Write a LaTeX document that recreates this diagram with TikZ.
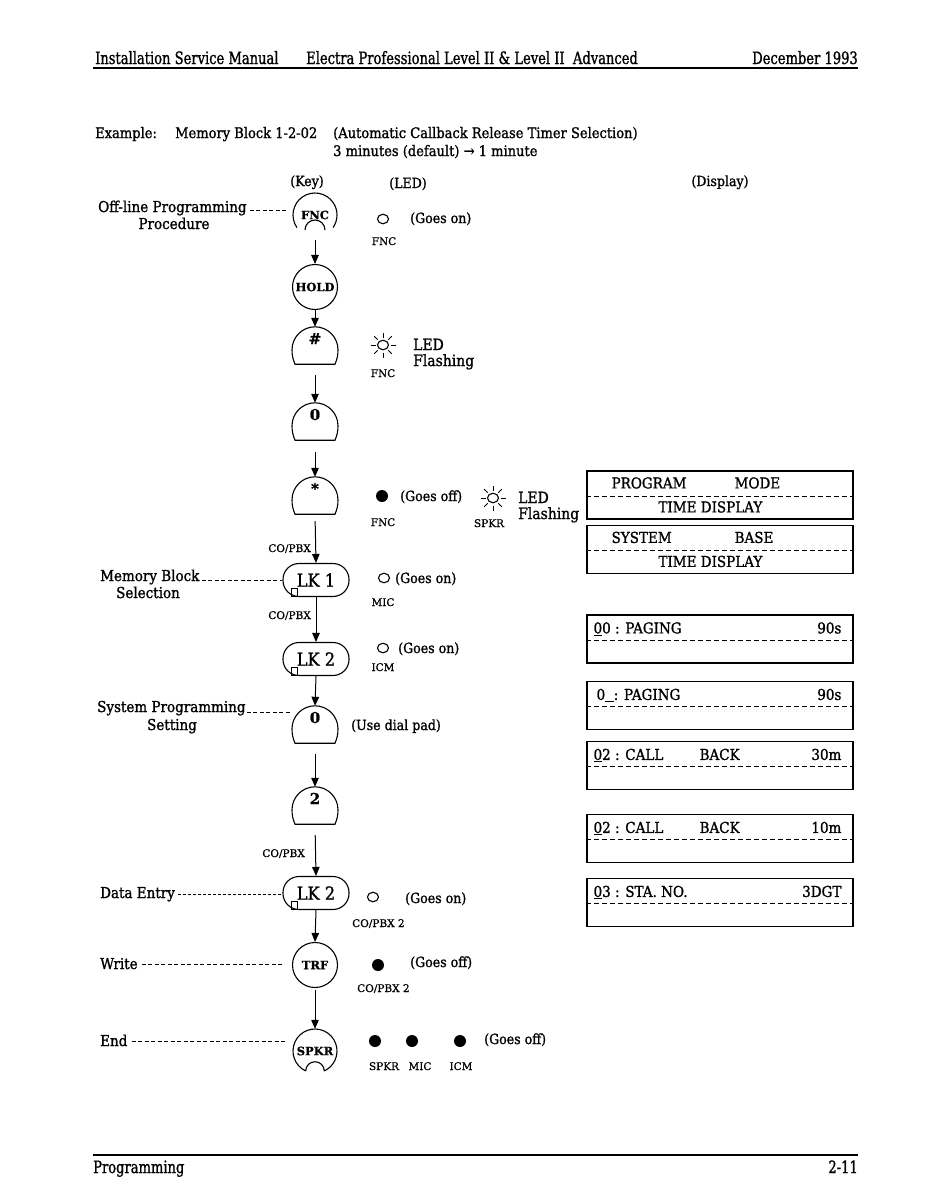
\documentclass[tikz,border=0pt]{standalone}
\usepackage{fontspec}
\setmainfont{DejaVu Serif}[FakeStretch=0.9,FakeBold=1.2]
\newfontfamily\hdrf{DejaVu Serif}[FakeStretch=0.77,FakeBold=1.2]
\newfontfamily\smallf{DejaVu Serif}[FakeBold=0.8]
\usetikzlibrary{arrows.meta,calc,shapes.geometric}
\newcommand\mydome[1]{\draw[keyline] ($(#1.south)+(-20,0)$) .. controls +(-2,-5) and +(0,6) .. ($(#1.north)+(-23,23)$) arc[start angle=180,end angle=0,radius=23pt] .. controls +(0,6) and +(2,-5) .. ($(#1.south)+(20,0)$) -- cycle;}
\newcommand\myflash[1]{\foreach \a in {0,45,...,315}{\draw[line width=0.9pt] ($(#1.center)+(\a:7.5pt)$) -- ($(#1.center)+(\a:12.5pt)$);}}
\newcommand\mysq[1]{\draw[line width=0.8pt] ($(#1.south west)+(9,-9)$) rectangle ++(6,8);}
\begin{document}
\begin{tikzpicture}[x=1pt,y=-1pt,
 keyline/.style={line width=1.1pt},
 arr/.style={line width=1pt,-{Triangle[length=9pt,width=7.5pt]}},
 lead/.style={line width=0.8pt,dash pattern=on 4pt off 2.5pt},
 body/.style={inner sep=0pt,anchor=base west,font=\fontsize{14.5}{17}\selectfont},
 lbl/.style={inner sep=0pt,anchor=base west,font=\fontsize{15}{17}\selectfont},
 ledt/.style={inner sep=0pt,anchor=base west,font=\fontsize{14}{16}\selectfont},
 bigt/.style={inner sep=0pt,anchor=base west,font=\fontsize{15.5}{17}\selectfont},
 sml/.style={inner sep=0pt,anchor=base,font=\smallf\fontsize{10.5}{12}\selectfont},
 hdr/.style={inner sep=0pt,anchor=base west,font=\hdrf\fontsize{17}{20}\selectfont},
 keyt/.style={font=\smallf\bfseries\fontsize{11.5}{12}\selectfont},
 circkey/.style={keyline,draw,circle,minimum size=45pt,inner sep=0pt,keyt},
 opencirc/.style={circle,minimum size=44pt,inner sep=0pt,keyt},
 domekey/.style={minimum width=46pt,minimum height=37pt,inner sep=0pt,text height=12pt,text depth=15pt,font=\smallf\bfseries\fontsize{15}{16}\selectfont},
 lk/.style={keyline,draw,rounded corners=16pt,minimum width=66pt,minimum height=33pt,inner sep=0pt,font=\fontsize{18}{20}\selectfont},
 ledon/.style={draw,ellipse,line width=1.1pt,minimum width=11pt,minimum height=9.5pt,inner sep=0pt},
 ledoff/.style={fill,circle,minimum size=12pt,inner sep=0pt},
 disp/.style={draw,line width=1.2pt,minimum width=266pt,minimum height=48pt,inner sep=0pt},
 dispt/.style={inner sep=0pt,anchor=base west,font=\fontsize{15}{17}\selectfont},
 ddash/.style={line width=1pt,dash pattern=on 5pt off 3pt}
]
\useasboundingbox (0,0) rectangle (924,1197);
% header / footer
\node[hdr] (h1) at (95,64) {Installation Service Manual};
\node[hdr] (h2) at (306,64) {Electra Professional Level II \& Level II\ \ Advanced};
\node[hdr,anchor=base east] (h3) at (858,64) {December 1993};
\draw[line width=2.4pt] (93,68) -- (858,68);
\draw[line width=2.4pt] (93,1155) -- (858,1155);
\node[hdr] (f1) at (93,1173) {Programming};
\node[hdr,anchor=base east] (f2) at (858,1173) {2-11};
% example
\node[body] (ex) at (95,138) {Example:};
\node[body] (mb0) at (175,138) {Memory Block 1-2-02};
\node[body] (ac) at (333,138) {(Automatic Callback Release Timer Selection)};
\node[body] (mn) at (333,156) {3 minutes (default) → 1 minute};
\node[ledt,anchor=base] (khead) at (307,186) {(Key)};
\node[ledt,anchor=base] (lhead) at (408,188) {(LED)};
\node[ledt,anchor=base] (dhead) at (720,186) {(Display)};
% keys
\node[opencirc] (fnc) at (315,215) {FNC};
\draw[keyline] ($(fnc.center)+(215:22pt)$) arc[start angle=215,end angle=-35,radius=22pt];
\draw[keyline] ($(fnc.center)+(10,15)$) arc[start angle=0,end angle=180,radius=10pt];
\node[circkey] (hold) at (315,287) {HOLD};
\node[domekey] (hash) at (315,345.5) {\#}; \mydome{hash}
\node[domekey] (zero1) at (315,421.5) {0}; \mydome{zero1}
\node[domekey] (star) at (315,495.5) {*}; \mydome{star}
\node[lk] (lk1) at (316,580) {LK 1}; \mysq{lk1}
\node[lk] (lk2a) at (316,659) {LK 2}; \mysq{lk2a}
\node[domekey] (zero2) at (315,724.5) {0}; \mydome{zero2}
\node[domekey] (two) at (315,805.5) {2}; \mydome{two}
\node[lk] (lk2b) at (316,893) {LK 2}; \mysq{lk2b}
\node[circkey] (trf) at (315,965) {TRF};
\node[opencirc] (spkr) at (315,1051) {SPKR};
\draw[keyline] ($(spkr.center)+(245:22pt)$) arc[start angle=245,end angle=-65,radius=22pt];
\draw[keyline] ($(spkr.center)+(9.3,20)$) arc[start angle=0,end angle=180,radius=9.3pt];
% arrows
\draw[arr,shorten <=3pt] (fnc.south) -- (hold.north);
\draw[arr] (hold.south) -- (hash.north);
\draw[arr,shorten <=11pt] (hash.south) -- (zero1.north);
\draw[arr,shorten <=12pt] (zero1.south) -- (star.north);
\draw[arr,shorten <=7pt] (star.south) -- (lk1.north);
\draw[arr] (lk1.south) -- (lk2a.north);
\draw[arr] (lk2a.south) -- (zero2.north);
\draw[arr,shorten <=11pt] (zero2.south) -- (two.north);
\draw[arr,shorten <=11pt] (two.south) -- (lk2b.north);
\draw[arr] (lk2b.south) -- (trf.north);
\draw[arr,shorten <=2pt] (trf.south) -- (spkr.north);
\node[sml,anchor=base east] (cp1) at (311,552) {CO/PBX};
\node[sml,anchor=base east] (cp2) at (311,619) {CO/PBX};
\node[sml,anchor=base east] (cp3) at (305,857) {CO/PBX};
% left labels
\node[lbl] (off1) at (98,212) {Off-line Programming};
\node[lbl,anchor=base] (off2) at (174,229) {Procedure};
\draw[lead] ($(off1.base east)+(3,-2)$) -- ($(fnc.west |- off1.base)+(-6,-2)$);
\node[lbl] (mbl1) at (100,581) {Memory Block};
\node[lbl,anchor=base] (mbl2) at (148,598) {Selection};
\draw[lead] ($(mbl1.base east)+(2,-1)$) -- ($(lk1.west |- mbl1.base)+(0,-1)$);
\node[lbl] (sp1) at (97,712) {System Programming};
\node[lbl,anchor=base] (sp2) at (172,730) {Setting};
\draw[lead] ($(sp1.base east)+(1,0)$) -- ($(zero2.west |- sp1.base)+(0,0)$);
\node[lbl] (de) at (100,898) {Data Entry};
\draw[lead,dash pattern=on 3pt off 2pt] ($(de.base east)+(3,-4)$) -- ($(lk2b.west |- de.base)+(0,-4)$);
\node[lbl] (wr) at (100,969) {Write};
\draw[lead] ($(wr.base east)+(4,-5)$) -- ($(trf.west |- wr.base)+(-8,-5)$);
\node[lbl] (en) at (100,1046) {End};
\draw[lead] ($(en.base east)+(4,-5)$) -- ($(spkr.west |- en.base)+(-8,-5)$);
% LED column
\node[ledon] (o1) at (383,219) {};
\node[ledt] (o1t) at (410,223) {(Goes on)};
\node[sml] (o1l) at (384,245) {FNC};
\node[ledon] (fl1) at (383,345) {}; \myflash{fl1}
\node[bigt] (fl1a) at (413,350) {LED};
\node[bigt] (fl1b) at (413,366) {Flashing};
\node[sml] (fl1l) at (383,377) {FNC};
\node[ledoff] (x1) at (382,496) {};
\node[ledt] (x1t) at (400,501) {(Goes off)};
\node[sml] (x1l) at (383,526) {FNC};
\node[ledon] (fl2) at (493,498) {}; \myflash{fl2}
\node[bigt] (fl2a) at (518,503) {LED};
\node[bigt] (fl2b) at (518,519) {Flashing};
\node[sml] (fl2l) at (489,527) {SPKR};
\node[ledon] (o2) at (384,578) {};
\node[ledt] (o2t) at (395,583) {(Goes on)};
\node[sml] (o2l) at (383,606) {MIC};
\node[ledon] (o3) at (383,648) {};
\node[ledt] (o3t) at (398,653) {(Goes on)};
\node[sml] (o3l) at (383,671) {ICM};
\node[ledt] (udp) at (351,730) {(Use dial pad)};
\node[ledon] (o4) at (373,897) {};
\node[ledt] (o4t) at (405,903) {(Goes on)};
\node[sml,anchor=base west] (o4l) at (352,927) {CO/PBX 2};
\node[ledoff] (x2) at (378,965) {};
\node[ledt] (x2t) at (410,967) {(Goes off)};
\node[sml,anchor=base west] (x2l) at (357,992) {CO/PBX 2};
\node[ledoff] (x3) at (375,1041) {};
\node[ledoff] (x4) at (412,1041) {};
\node[ledoff] (x5) at (460,1041) {};
\node[ledt] (x3t) at (484,1044) {(Goes off)};
\node[sml] (x3l) at (384,1070) {SPKR};
\node[sml] (x4l) at (420,1070) {MIC};
\node[sml] (x5l) at (461,1070) {ICM};
% displays
\node[disp] (d1) at (720,495) {};
\node[disp] (d2) at (720,549.5) {};
\node[disp] (d3) at (720,639) {};
\node[disp] (d4) at (720,705.5) {};
\node[disp] (d5) at (720,765.5) {};
\node[disp] (d6) at (720,838.5) {};
\node[disp] (d7) at (720,902.5) {};
\foreach \d in {d1,d2,d3,d4,d5,d6,d7}{\draw[ddash] ($(\d.north west)+(0,26)$) -- ($(\d.north east)+(0,26)$);}
\node[dispt] (d1a) at ($(d1.north west)+(25,18)$) {PROGRAM};
\node[dispt] (d1b) at ($(d1.north west)+(148,18)$) {MODE};
\node[dispt,anchor=base] (d1c) at ($(d1.north west)+(124,42)$) {TIME DISPLAY};
\node[dispt] (d2a) at ($(d2.north west)+(25,18)$) {SYSTEM};
\node[dispt] (d2b) at ($(d2.north west)+(148,18)$) {BASE};
\node[dispt,anchor=base] (d2c) at ($(d2.north west)+(124,42)$) {TIME DISPLAY};
\node[dispt] (d3a) at ($(d3.north west)+(7,19)$) {\underline{0}0 : PAGING};
\node[dispt,anchor=base east] (d3b) at ($(d3.north east)+(-12,19)$) {90s};
\node[dispt] (d4a) at ($(d4.north west)+(10,19)$) {0\underline{\hphantom{0}}: PAGING};
\node[dispt,anchor=base east] (d4b) at ($(d4.north east)+(-12,19)$) {90s};
\node[dispt] (d5a) at ($(d5.north west)+(7,19)$) {\underline{0}2 : CALL};
\node[dispt] (d5b) at ($(d5.north west)+(113,19)$) {BACK};
\node[dispt,anchor=base east] (d5c) at ($(d5.north east)+(-12,19)$) {30m};
\node[dispt] (d6a) at ($(d6.north west)+(7,19)$) {\underline{0}2 : CALL};
\node[dispt] (d6b) at ($(d6.north west)+(113,19)$) {BACK};
\node[dispt,anchor=base east] (d6c) at ($(d6.north east)+(-12,19)$) {10m};
\node[dispt] (d7a) at ($(d7.north west)+(7,19)$) {\underline{0}3 : STA. NO.};
\node[dispt,anchor=base east] (d7b) at ($(d7.north east)+(-12,19)$) {3DGT};
\end{tikzpicture}
\end{document}
